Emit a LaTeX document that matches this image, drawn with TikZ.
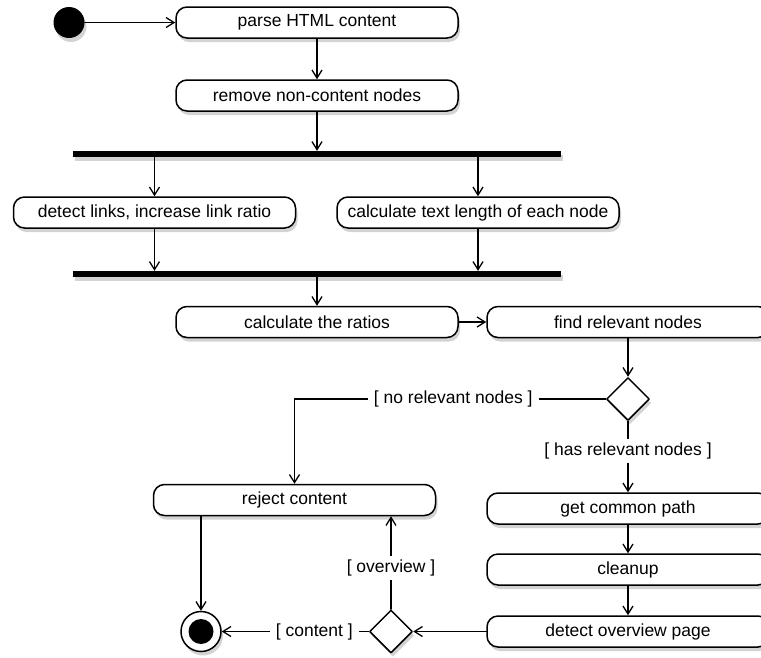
\documentclass[tikz,border=0pt]{standalone}
\usepackage{fontspec}
\setmainfont{Liberation Sans}
\usetikzlibrary{arrows.meta}
\usetikzlibrary{shapes.geometric}
\usetikzlibrary{shadows}

\begin{document}
\begin{tikzpicture}[line cap=round,line join=round,>={Straight Barb[length=8pt,width=10pt]},x=1pt,y=-1pt,
  font=\fontsize{17.5}{21}\selectfont,
  dropsh/.style={drop shadow={shadow xshift=2pt,shadow yshift=-4pt,opacity=0.35}},
  act/.style={draw,line width=1.5pt,fill=white,rounded corners=11pt,minimum width=282pt,minimum height=31pt,inner sep=0pt,dropsh},
  forkbar/.style={fill=black,minimum width=488pt,minimum height=6pt,inner sep=0pt,dropsh},
  dec/.style={diamond,draw,line width=1.5pt,fill=white,minimum width=43pt,minimum height=43pt,inner sep=0pt,dropsh},
  guard/.style={fill=white,inner xsep=6pt,inner ysep=4pt},
  flow/.style={->,line width=1.3pt}]
\useasboundingbox (0,0) rectangle (761,657);
\clip (0,0) rectangle (761,657);
\node [circle,fill=black,minimum size=31pt,inner sep=0pt,dropsh] (start) at (69,22.5) {};
\node [act] (parse) at (317,22.5) {parse HTML content};
\node [act] (remove) at (317,95.5) {remove non-content nodes};
\node [forkbar] (fork) at (317,154) {};
\node [act] (links) at (154.5,212.5) {detect links, increase link ratio};
\node [act] (textlen) at (478,212.5) {calculate text length of each node};
\node [forkbar] (join) at (317,274) {};
\node [act] (ratios) at (317,322) {calculate the ratios};
\node [act] (relevant) at (628,322) {find relevant nodes};
\node [dec] (hasnodes) at (628,399) {};
\node [act] (reject) at (294.5,500) {reject content};
\node [act] (common) at (628,508.5) {get common path};
\node [act] (cleanup) at (628,569.5) {cleanup};
\node [act] (overview) at (628,631.5) {detect overview page};
\node [dec] (isoverview) at (391,631.5) {};
\node [circle,draw,line width=1.5pt,fill=white,minimum size=40pt,inner sep=0pt,dropsh] (final) at (201,631.5) {};
\fill (final) circle (12.5pt);
% main flow
\draw [flow] (start) -- (parse);
\draw [flow] (parse) -- (remove);
\draw [flow] (remove) -- (fork);
\draw [flow] (fork.south -| links.north) -- (links);
\draw [flow] (fork.south -| textlen.north) -- (textlen);
\draw [flow] (links) -- (links.south |- join.north);
\draw [flow] (textlen) -- (textlen.south |- join.north);
\draw [flow] (join) -- (ratios);
\draw [flow] (ratios) -- (relevant);
\draw [flow] (relevant) -- (hasnodes);
\draw [flow] (hasnodes.west) -| node [guard,pos=0.245] {[ no relevant nodes ]} (reject.north);
\draw [flow] (hasnodes) -- node [guard,pos=0.42] {[ has relevant nodes ]} (common);
\draw [flow] (common) -- (cleanup);
\draw [flow] (cleanup) -- (overview);
\draw [flow] (overview) -- (isoverview);
\draw [flow] (isoverview) -- node [guard,pos=0.37] {[ content ]} (final);
\draw [flow] (isoverview.north) -- node [guard,pos=0.44] {[ overview ]} (isoverview.north |- reject.south);
\draw [flow] (final |- reject.south) -- (final);
\end{tikzpicture}
\end{document}
